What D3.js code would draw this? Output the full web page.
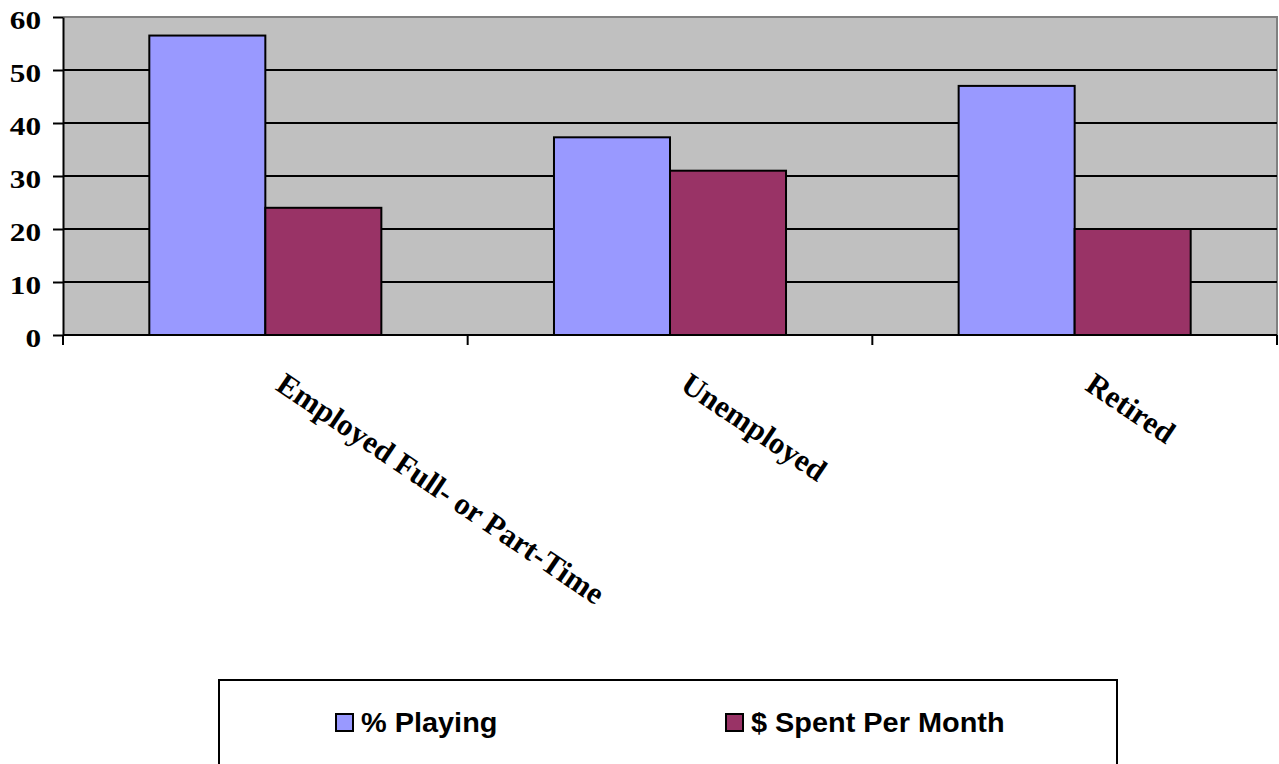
<!DOCTYPE html>
<html>
<head>
<meta charset="utf-8">
<script src="https://cdn.jsdelivr.net/npm/d3@7"></script>
<style>
  html, body { margin: 0; padding: 0; background: #fff; }
  svg { display: block; }
</style>
</head>
<body>
<svg id="chart" width="1279" height="764"></svg>
<script>
// Employment status groups and the two measured series
const categories = ["Employed Full- or Part-Time", "Unemployed", "Retired"];
const seriesNames = ["% Playing", "$ Spent Per Month"];
const pctPlaying = [56.5, 37.3, 47.0];
const spentPerMonth = [24, 31, 20];
const yTicks = [0, 10, 20, 30, 40, 50, 60];
const colors = ["#9999FF", "#993366"];

const seriesValues = [pctPlaying, spentPerMonth];
const rows = categories.map((c, i) => ({
  category: c,
  values: seriesNames.map((s, j) => ({ series: s, value: seriesValues[j][i] }))
}));

const svg = d3.select("#chart");
const plot = { left: 63, right: 1277, top: 17, bottom: 335 };

const y = d3.scaleLinear().domain([0, 60]).range([plot.bottom, plot.top]);
const x0 = d3.scaleBand().domain(categories).range([plot.left, plot.right]).padding(0);
const x1 = d3.scaleBand().domain(seriesNames).range([0, x0.bandwidth()])
  .paddingInner(0).paddingOuter(0.744);
const color = d3.scaleOrdinal().domain(seriesNames).range(colors);

// plot area background
svg.append("rect")
  .attr("x", plot.left).attr("y", plot.top)
  .attr("width", plot.right - plot.left).attr("height", plot.bottom - plot.top)
  .attr("fill", "#C0C0C0");

// top and right frame edges
svg.append("path")
  .attr("d", `M${plot.left},${plot.top}H${plot.right}V${plot.bottom}`)
  .attr("fill", "none").attr("stroke", "#808080").attr("stroke-width", 2);

// horizontal gridlines
svg.append("g").selectAll("line")
  .data(yTicks.filter(t => t > 0 && t < 60))
  .join("line")
  .attr("x1", plot.left).attr("x2", plot.right)
  .attr("y1", d => y(d)).attr("y2", d => y(d))
  .attr("stroke", "#000").attr("stroke-width", 2);

// bars
svg.append("g").selectAll("g")
  .data(rows)
  .join("g")
  .attr("transform", d => `translate(${x0(d.category)},0)`)
  .selectAll("rect")
  .data(d => d.values)
  .join("rect")
  .attr("x", d => x1(d.series))
  .attr("y", d => y(d.value))
  .attr("width", x1.bandwidth())
  .attr("height", d => y(0) - y(d.value))
  .attr("fill", d => color(d.series))
  .attr("stroke", "#000").attr("stroke-width", 2);

// y axis
const yAxis = svg.append("g")
  .attr("transform", `translate(${plot.left},0)`)
  .call(d3.axisLeft(y).tickValues(yTicks).tickSize(10).tickSizeOuter(0).tickFormat(d3.format("d")));
yAxis.select(".domain").attr("stroke", "#000").attr("stroke-width", 2);
yAxis.selectAll(".tick line").attr("stroke", "#000").attr("stroke-width", 2);
yAxis.selectAll(".tick text")
  .attr("x", 0).attr("dy", null).attr("y", 0)
  .attr("transform", "translate(-22,11) scale(1.25,1)")
  .attr("text-anchor", "end")
  .attr("fill", "#000")
  .style("font-family", "'Liberation Serif', 'Times New Roman', serif")
  .style("font-weight", "bold")
  .style("font-size", "25px");

// x axis: ticks at category boundaries
const xAxisG = svg.append("g");
xAxisG.append("line")
  .attr("x1", plot.left).attr("x2", plot.right)
  .attr("y1", plot.bottom).attr("y2", plot.bottom)
  .attr("stroke", "#000").attr("stroke-width", 2);
const boundaries = categories.map(c => x0(c)).concat([x0(categories[categories.length - 1]) + x0.bandwidth()]);
xAxisG.selectAll("line.tick")
  .data(boundaries)
  .join("line")
  .attr("class", "tick")
  .attr("x1", d => d).attr("x2", d => d)
  .attr("y1", plot.bottom).attr("y2", plot.bottom + 10)
  .attr("stroke", "#000").attr("stroke-width", 2);

// rotated category labels
xAxisG.selectAll("text")
  .data(categories)
  .join("text")
  .attr("transform", d => `translate(${x0(d) + x0.bandwidth() / 2 + 9},389) rotate(34)`)
  .attr("text-anchor", "start")
  .attr("fill", "#000")
  .style("font-family", "'Liberation Serif', 'Times New Roman', serif")
  .style("font-weight", "bold")
  .style("font-size", "31px")
  .text(d => d);

// legend
const legend = svg.append("g");
legend.append("rect")
  .attr("x", 219).attr("y", 680).attr("width", 898).attr("height", 140)
  .attr("fill", "#fff").attr("stroke", "#000").attr("stroke-width", 2);
const legendX = [336, 726];
const items = legend.selectAll("g.item")
  .data(seriesNames)
  .join("g")
  .attr("class", "item")
  .attr("transform", (d, i) => `translate(${legendX[i]},0)`);
items.append("rect")
  .attr("x", 0).attr("y", 714).attr("width", 17).attr("height", 17)
  .attr("fill", d => color(d)).attr("stroke", "#000").attr("stroke-width", 2);
items.append("text")
  .attr("transform", "translate(25,732) scale(1.07,1)")
  .attr("fill", "#000")
  .style("font-family", "'Liberation Sans', Arial, sans-serif")
  .style("font-weight", "bold")
  .style("font-size", "27px")
  .text(d => d);
</script>
</body>
</html>
